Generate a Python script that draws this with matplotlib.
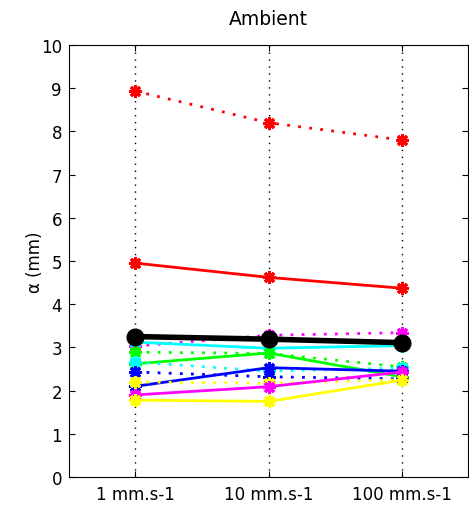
import matplotlib
matplotlib.use("Agg")
import matplotlib.pyplot as plt

plt.rcParams['font.family'] = ['DejaVu Sans']

categories = ["1 mm.s-1", "10 mm.s-1", "100 mm.s-1"]

red_dotted = [8.93, 8.2, 7.8]
red_solid = [4.95, 4.62, 4.37]
magenta_dotted = [3.03, 3.28, 3.34]
cyan_solid = [3.12, 2.98, 3.04]
green_dotted = [2.89, 2.86, 2.55]
green_solid = [2.62, 2.87, 2.32]
cyan_dotted = [2.66, 2.45, 2.52]
blue_dotted = [2.43, 2.32, 2.27]
blue_solid = [2.1, 2.53, 2.45]
yellow_dotted = [2.2, 2.17, 2.25]
magenta_solid = [1.9, 2.09, 2.43]
yellow_solid = [1.78, 1.75, 2.24]
black_solid = [3.25, 3.19, 3.11]

series = [
    (red_dotted, 'red', ':'),
    (red_solid, 'red', '-'),
    (magenta_dotted, 'magenta', ':'),
    (cyan_solid, 'cyan', '-'),
    (green_dotted, 'lime', ':'),
    (green_solid, 'lime', '-'),
    (cyan_dotted, 'cyan', ':'),
    (blue_dotted, 'blue', ':'),
    (blue_solid, 'blue', '-'),
    (yellow_dotted, 'yellow', ':'),
    (magenta_solid, 'magenta', '-'),
    (yellow_solid, 'yellow', '-'),
]

fig = plt.figure(figsize=(4.69, 5.06), dpi=100)
ax = fig.add_axes([0.147, 0.0553, 0.851, 0.854])
x = [1, 2, 3]
for vals, col, ls in series:
    ax.plot(x, vals, color=col, linestyle=ls, linewidth=2.0,
            dashes=(1, 3) if ls == ':' else (None, None),
            marker=(8, 2, 0), markersize=9, markeredgewidth=2.2, zorder=3)
ax.plot(x, black_solid, color='black', linestyle='-', linewidth=4,
        marker='o', markersize=12, markerfacecolor='black', zorder=4)

ax.set_xlim(0.5, 3.5)
ax.set_ylim(0, 10)
ax.set_xticks(x)
ax.set_xticklabels(categories)
ax.set_yticks(range(0, 11))
ax.xaxis.grid(True, linestyle=(0, (1, 4)), color='black', linewidth=1.0)
ax.tick_params(direction='in', labelsize=12, length=4, top=True, right=True)
ax.tick_params(axis='x', pad=6)
ax.tick_params(axis='y', pad=5)
ax.set_ylabel('α (mm)', fontsize=12)
ax.yaxis.set_label_coords(-0.062, 0.5)
ax.set_title('Ambient', fontsize=13.5, pad=15)
for s in ax.spines.values():
    s.set_linewidth(0.8)

fig.savefig('out.png', dpi=100)
